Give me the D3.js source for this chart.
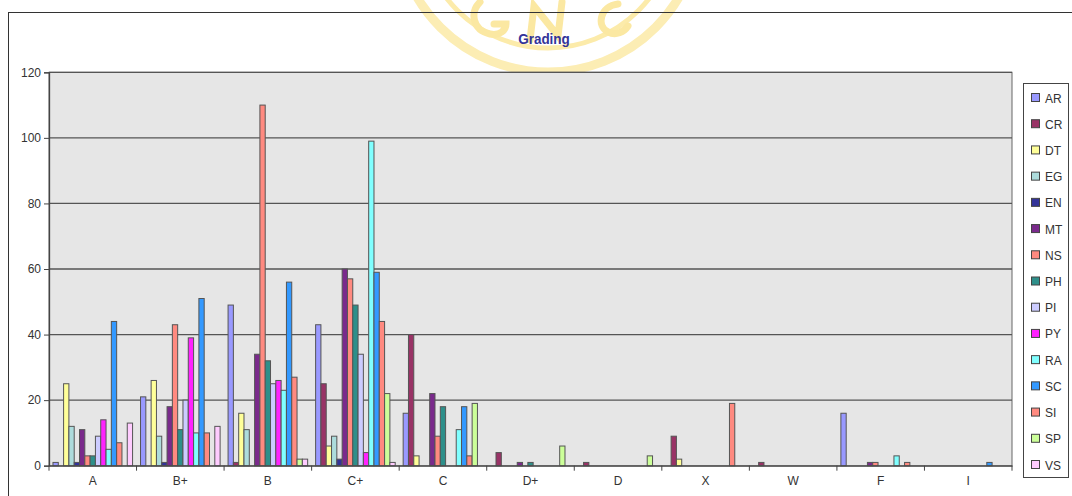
<!DOCTYPE html>
<html>
<head>
<meta charset="utf-8">
<script src="https://cdn.jsdelivr.net/npm/d3@7"></script>
<style>
  html, body { margin: 0; padding: 0; background: #ffffff; }
  svg { display: block; font-family: Arial, "Liberation Sans", sans-serif; }
</style>
</head>
<body>
<svg id="chart" width="1072" height="496"></svg>
<script>
// ---- data ----
const categories = ["A", "B+", "B", "C+", "C", "D+", "D", "X", "W", "F", "I"];
const seriesNames = ["AR", "CR", "DT", "EG", "EN", "MT", "NS", "PH", "PI", "PY", "RA", "SC", "SI", "SP", "VS"];
const seriesColors = ["#9999FF", "#993366", "#FFFF99", "#ADDCDC", "#333399", "#7A2A8C", "#FF8A80",
                      "#2E8F8A", "#CCCCFF", "#FF22FF", "#80FFFF", "#3399FF", "#FF8A80", "#CCFF99", "#FFCCFF"];
// values per series, in category order A, B+, B, C+, C, D+, D, X, W, F, I
const AR = [1, 21, 49, 43, 16, 0, 0, 0, 0, 16, 0];
const CR = [0, 0, 1, 25, 40, 4, 1, 9, 1, 0, 0];
const DT = [25, 26, 16, 6, 3, 0, 0, 2, 0, 0, 0];
const EG = [12, 9, 11, 9, 0, 0, 0, 0, 0, 0, 0];
const EN = [1, 1, 0, 2, 0, 0, 0, 0, 0, 0, 0];
const MT = [11, 18, 34, 60, 22, 1, 0, 0, 0, 1, 0];
const NS = [3, 43, 110, 57, 9, 0, 0, 0, 0, 1, 0];
const PH = [3, 11, 32, 49, 18, 1, 0, 0, 0, 0, 0];
const PI = [9, 20, 25, 34, 0, 0, 0, 0, 0, 0, 0];
const PY = [14, 39, 26, 4, 0, 0, 0, 0, 0, 0, 0];
const RA = [5, 10, 23, 99, 11, 0, 0, 0, 0, 3, 0];
const SC = [44, 51, 56, 59, 18, 0, 0, 0, 0, 0, 1];
const SI = [7, 10, 27, 44, 3, 0, 0, 19, 0, 1, 0];
const SP = [0, 0, 2, 22, 19, 6, 3, 0, 0, 0, 0];
const VS = [13, 12, 2, 1, 0, 0, 0, 0, 0, 0, 0];
const yTicks = [0, 20, 40, 60, 80, 100, 120];
const titleText = "Grading";

const seriesValues = [AR, CR, DT, EG, EN, MT, NS, PH, PI, PY, RA, SC, SI, SP, VS];

// ---- layout ----
const svg = d3.select("#chart");
const plot = { left: 49, right: 1012, top: 72.3, bottom: 465.7 };

// watermark (faint logo behind the chart), drawn as shapes only
const wm = svg.append("g").attr("fill", "none").attr("stroke-linecap", "round");
wm.append("circle").attr("cx", 548).attr("cy", -80).attr("r", 152)
  .attr("stroke", "#FCEDB4").attr("stroke-width", 9);
wm.append("circle").attr("cx", 548).attr("cy", -80).attr("r", 128)
  .attr("stroke", "#FCEBAA").attr("stroke-width", 5);
wm.append("path").attr("d", "M480,2 C470,12 472,30 490,34 C500,36 506,30 506,24 L494,24")
  .attr("stroke", "#FBE8A2").attr("stroke-width", 7);
wm.append("path").attr("d", "M530,40 L534,6 L558,36 L562,2")
  .attr("stroke", "#FBE8A2").attr("stroke-width", 7);
wm.append("path").attr("d", "M618,4 C600,6 596,26 608,32 C616,36 624,32 628,26")
  .attr("stroke", "#FBE8A2").attr("stroke-width", 7);

// chart frame
svg.append("rect").attr("x", 8.5).attr("y", 12.5).attr("width", 1072).attr("height", 500)
  .attr("fill", "none").attr("stroke", "#333").attr("stroke-width", 1);

// title
svg.append("text").attr("x", 544).attr("y", 44).attr("text-anchor", "middle")
  .attr("font-size", 15).attr("font-weight", "bold").attr("fill", "#333399")
  .attr("transform", "translate(544,0) scale(0.9,1) translate(-544,0)")
  .text(titleText);

// scales
const x0 = d3.scaleBand().domain(categories).range([plot.left, plot.right]).paddingInner(0).paddingOuter(0);
const bw = x0.bandwidth();
const edge = bw * 0.75 / 16.5;
const x1 = d3.scaleBand().domain(seriesNames).range([edge, bw - edge]).padding(0);
const y = d3.scaleLinear().domain([0, 120]).range([plot.bottom, plot.top]);
const color = d3.scaleOrdinal().domain(seriesNames).range(seriesColors);

// plot background
svg.append("rect").attr("x", plot.left).attr("y", plot.top)
  .attr("width", plot.right - plot.left).attr("height", plot.bottom - plot.top)
  .attr("fill", "#E6E6E6").attr("stroke", "#666").attr("stroke-width", 1);

// gridlines
svg.append("g").selectAll("line").data(yTicks.filter(d => d > 0)).join("line")
  .attr("x1", plot.left).attr("x2", plot.right)
  .attr("y1", d => y(d)).attr("y2", d => y(d))
  .attr("stroke", "#555").attr("stroke-width", 1.3);

// bars
const rows = [];
seriesNames.forEach((s, si) => {
  categories.forEach((c, ci) => {
    const v = seriesValues[si][ci];
    if (v > 0) rows.push({ s, c, v });
  });
});
svg.append("g").selectAll("rect").data(rows).join("rect")
  .attr("x", d => x0(d.c) + x1(d.s))
  .attr("y", d => y(d.v))
  .attr("width", x1.bandwidth())
  .attr("height", d => y(0) - y(d.v))
  .attr("fill", d => color(d.s))
  .attr("stroke", "#555").attr("stroke-width", 1);

// y axis
const yAxis = d3.axisLeft(y).tickValues(yTicks).tickSize(5).tickPadding(3);
const gy = svg.append("g").attr("transform", `translate(${plot.left},0)`).call(yAxis);
gy.select(".domain").attr("stroke", "#444").attr("stroke-width", 1.3);
gy.selectAll(".tick line").attr("stroke", "#444");
gy.selectAll(".tick text").attr("font-size", 12).attr("fill", "#333")
  .attr("font-family", "Arial, 'Liberation Sans', sans-serif");

// x axis
const xAxis = d3.axisBottom(x0).tickSize(0).tickPadding(11);
const gx = svg.append("g").attr("transform", `translate(0,${plot.bottom})`).call(xAxis);
gx.select(".domain").attr("stroke", "#444").attr("stroke-width", 1.3);
gx.selectAll(".tick text").attr("font-size", 12).attr("fill", "#333")
  .attr("font-family", "Arial, 'Liberation Sans', sans-serif");
// category boundary ticks
const bounds = categories.map(c => x0(c)).concat([plot.right]);
gx.append("g").selectAll("line").data(bounds).join("line")
  .attr("x1", d => d).attr("x2", d => d).attr("y1", 0).attr("y2", 5)
  .attr("stroke", "#444").attr("stroke-width", 1);

// legend
const lg = svg.append("g");
lg.append("rect").attr("x", 1023.5).attr("y", 83.5).attr("width", 45).attr("height", 394)
  .attr("fill", "#ffffff").attr("stroke", "#444").attr("stroke-width", 1);
const ly = d3.scalePoint().domain(seriesNames).range([98, 465]);
const li = lg.selectAll("g.item").data(seriesNames).join("g").attr("class", "item")
  .attr("transform", d => `translate(0,${ly(d)})`);
li.append("rect").attr("x", 1031.5).attr("y", -4.5).attr("width", 8).attr("height", 8)
  .attr("fill", d => color(d)).attr("stroke", "#444").attr("stroke-width", 1);
li.append("text").attr("x", 1045).attr("y", 4.5).attr("font-size", 12).attr("fill", "#333")
  .text(d => d);
</script>
</body>
</html>
